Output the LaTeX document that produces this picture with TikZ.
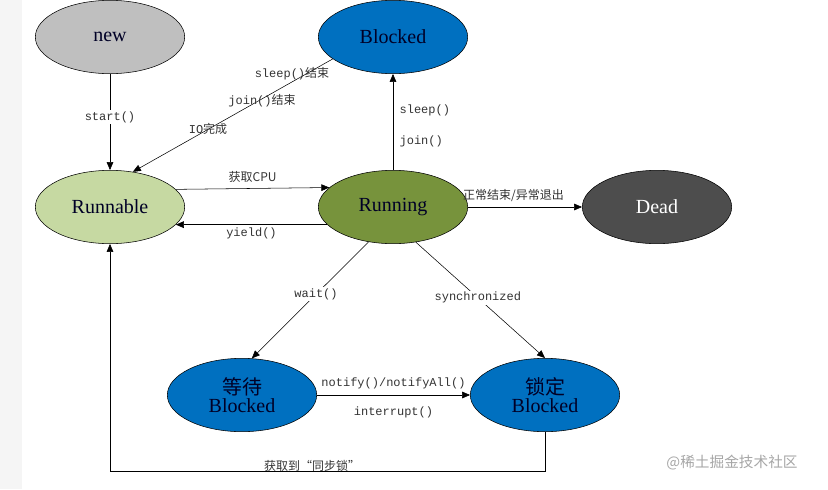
\documentclass[tikz,border=0pt]{standalone}
\usepackage{fontspec}
\setmainfont{Liberation Serif}
\setmonofont{Liberation Mono}
\newfontfamily\cjk{Noto Sans CJK SC}
\usetikzlibrary{shapes.geometric,arrows.meta}
\definecolor{stategray}{HTML}{BFBFBF}
\definecolor{stateblue}{HTML}{0070C0}
\definecolor{statelight}{HTML}{C6D9A2}
\definecolor{stategreen}{HTML}{77933C}
\definecolor{statedark}{HTML}{4D4D4D}
\begin{document}
\begin{tikzpicture}
        [x=0.75pt, y=-0.75pt,
        state/.style={ellipse, draw, thin, minimum width=112pt, minimum height=55pt, inner sep=0pt, font=\fontsize{15}{16}\selectfont, text=black!85!blue},
        edge/.style={thin, -{Triangle[length=6pt,width=5pt]}},
        lbl/.style={font=\ttfamily\fontsize{9}{10}\selectfont, text=black!80, inner sep=1pt}]

        \useasboundingbox (0,0) rectangle (828,489);
        \fill[black!4] (0,0) rectangle (22,489);

        \node[state, fill=stategray] (new) at (110,37) {new};
        \node[state, fill=stateblue] (blocked) at (393,37) {Blocked};
        \node[state, fill=statelight] (runnable) at (110,207) {Runnable};
        \node[state, fill=stategreen] (running) at (393,207) {Running};
        \node[state, fill=statedark, text=white] (dead) at (657,207) {Dead};
        \node[state, fill=stateblue, align=center] (wait) at (242,395) {{\cjk 等待}\\[-2pt]Blocked};
        \node[state, fill=stateblue, align=center] (lock) at (545,395) {{\cjk 锁定}\\[-2pt]Blocked};

        \draw[edge] (new) -- (runnable) node[lbl, pos=0.45, fill=white] {start()};
        \draw[edge] (blocked.200) -- (runnable.57);
        \node[lbl] at (292,74) {sleep()\cjk 结束};
        \node[lbl] at (262,101) {join()\cjk 结束};
        \node[lbl] at (208,129) {IO\cjk 完成};
        \draw[edge] (running) -- (blocked);
        \node[lbl, anchor=west] at (398,110) {sleep()};
        \node[lbl, anchor=west] at (398,141) {join()};
        \draw[edge] (runnable.15) -- (running.163) node[lbl, midway, above=3pt] {\cjk 获取CPU};
        \draw[edge] (running.195) -- (runnable.345) node[lbl, midway, below=1pt] {yield()};
        \draw[edge] (running) -- (dead) node[lbl, pos=0.4, above=3pt] {\cjk 正常结束/异常退出};
        \draw[edge] (running.235) -- (wait.75) node[lbl, pos=0.45, fill=white] {wait()};
        \draw[edge] (running.303) -- (lock.90) node[lbl, pos=0.48, fill=white] {synchronized};
        \draw[edge] (wait) -- (lock) node[lbl, midway, above=3pt] {notify()/notifyAll()} node[lbl, midway, below=8pt] {interrupt()};
        \draw[edge] (lock.south) |- (110,471) -- (runnable.south);
        \node[lbl] at (312,466) {\cjk 获取到“同步锁”};

        \node[font=\cjk\fontsize{11}{12}\selectfont, text=black!35] (mark) at (732,463) {@稀土掘金技术社区};
    \end{tikzpicture}
\end{document}
